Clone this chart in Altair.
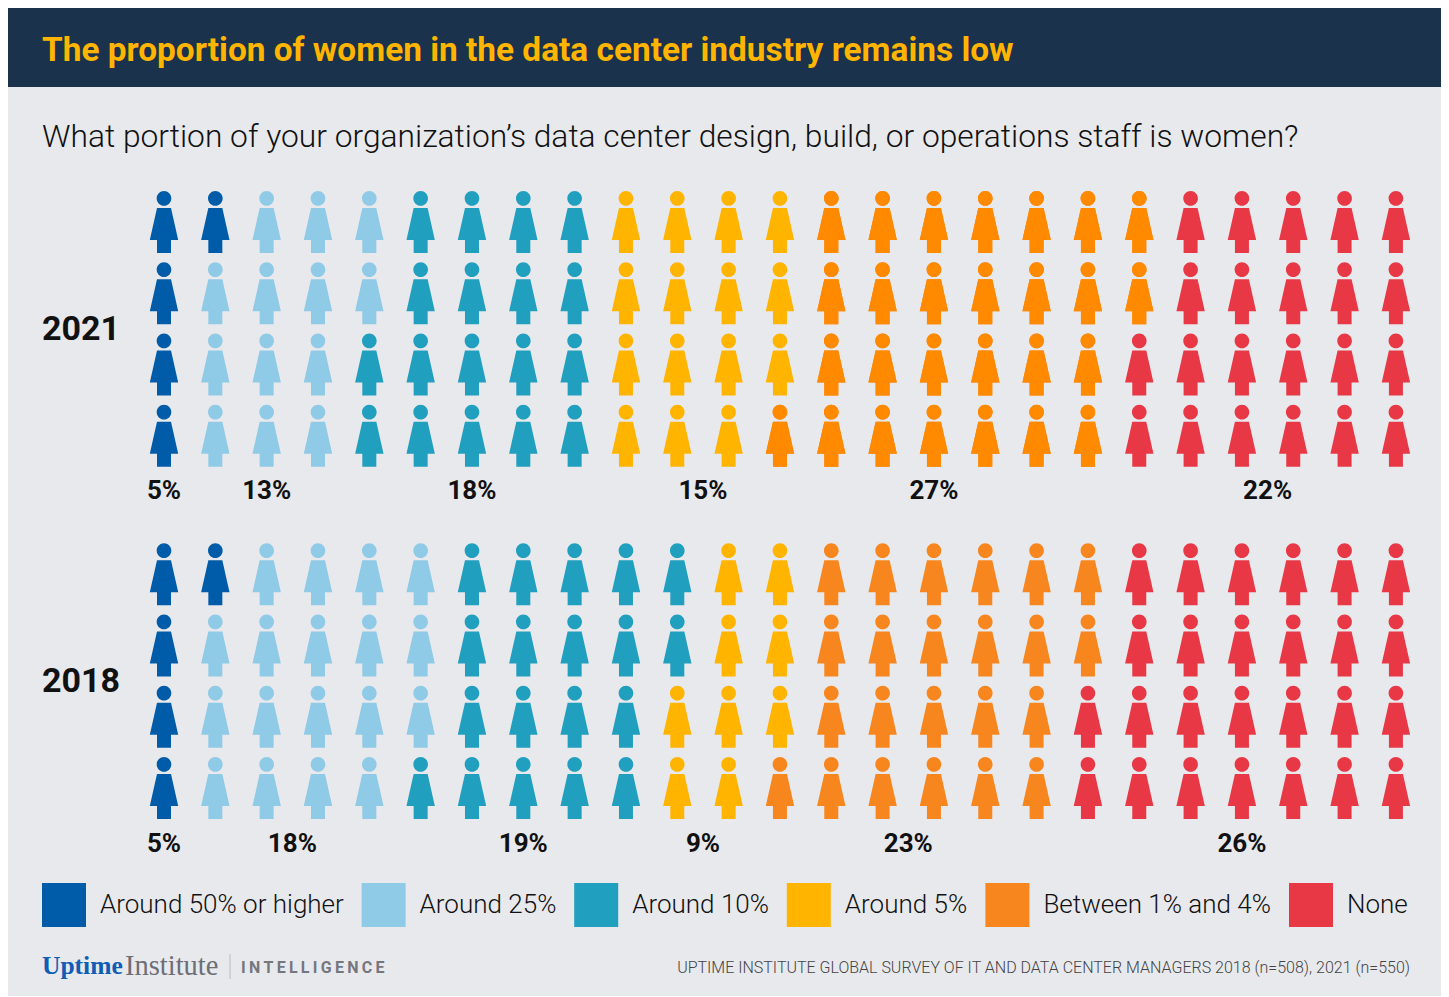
import altair as alt
import pandas as pd

categories = ["Around 50% or higher", "Around 25%", "Around 10%", "Around 5%", "Between 1% and 4%", "None"]
colors = ["#005CA9", "#8FCAE7", "#209FBE", "#FFB400", "#F7861F", "#E83845"]
orange_2021 = "#FF8A00"
years = ["2021", "2018"]
counts_2021 = [5, 13, 18, 15, 27, 22]
counts_2018 = [5, 18, 19, 9, 23, 26]
label_cols_2021 = [0, 2, 6, 10.5, 15, 21.5]
label_cols_2018 = [0, 2.5, 7, 10.5, 14.5, 21]
year_row_offset = {"2021": 0, "2018": 4.944}
ROWS = 4

W, H = 1433, 988
X0, XSTEP = 156.0, 51.33
Y0, YSTEP = 214.0, 71.25


def cells(year, counts):
    out = []
    i = 0
    for cat, n in zip(categories, counts):
        for _ in range(n):
            out.append({"year": year, "category": cat,
                        "col": i // ROWS,
                        "row": i % ROWS + year_row_offset[year]})
            i += 1
    return out


df = pd.DataFrame(cells("2021", counts_2021) + cells("2018", counts_2018))

labels_2021 = pd.DataFrame({"col": label_cols_2021, "label": [f"{n}%" for n in counts_2021]})
labels_2018 = pd.DataFrame({"col": label_cols_2018, "label": [f"{n}%" for n in counts_2018]})

x_scale = alt.Scale(domain=[-X0 / XSTEP, (W - X0) / XSTEP], range=[0, W], nice=False, zero=False)
y_scale = alt.Scale(domain=[-Y0 / YSTEP, (H - Y0) / YSTEP], range=[0, H], nice=False, zero=False)

u = 31.0


def p(a):
    return f"{a / u:.4f}"


ICON = (
    f"M{p(-7)},{p(-14)} L{p(7)},{p(-14)} L{p(14.2)},{p(18)} L{p(7)},{p(18)} L{p(7)},1 "
    f"L{p(-7)},1 L{p(-7)},{p(18)} L{p(-14.2)},{p(18)} Z "
    f"M{p(-7.3)},{p(-23.6)} A{p(7.3)},{p(7.3)} 0 1 1 {p(7.3)},{p(-23.6)} "
    f"A{p(7.3)},{p(7.3)} 0 1 1 {p(-7.3)},{p(-23.6)} Z"
)

one = alt.Data(values=[{"a": 1}])


def rect(x, x2, y, y2, fill):
    return alt.Chart(one).mark_rect(fill=fill, stroke=None).encode(
        x=alt.value(x), x2=alt.value(x2), y=alt.value(y), y2=alt.value(y2))


def text(s, x, y, size, color="#111111", weight=400, align="left", font="Roboto"):
    return alt.Chart(one).mark_text(
        text=s, align=align, baseline="middle", fontSize=size, color=color,
        fontWeight=weight, font=font,
    ).encode(x=alt.value(x), y=alt.value(y))


def pct(frame, y):
    return alt.Chart(frame).mark_text(
        font="Roboto", fontSize=26, fontWeight=700, color="#111111", baseline="middle", align="center"
    ).encode(x=alt.X("col:Q", scale=x_scale, axis=None), y=alt.value(y), text="label:N")


panel = rect(0, W, 79, H, "#E8E9ED")
header = rect(0, W, 0, 79, "#1A324C")

icons = alt.Chart(df).mark_point(
    shape=ICON, filled=True, size=3844, opacity=1, strokeWidth=0
).encode(
    x=alt.X("col:Q", scale=x_scale, axis=None),
    y=alt.Y("row:Q", scale=y_scale, axis=None),
    fill=alt.Fill(
        "category:N",
        sort=categories,
        scale=alt.Scale(domain=categories, range=colors),
        legend=alt.Legend(
            title=None, orient="none", legendX=34, legendY=875,
            direction="horizontal", columns=6, symbolType="square", symbolSize=1936,
            symbolStrokeWidth=0, symbolOpacity=1, labelOffset=14, columnPadding=17.6,
            labelFont="Roboto", labelFontSize=26, labelFontWeight=300, labelColor="#111111",
            labelLimit=400, padding=0,
        ),
    ),
)

icons_2021_orange = alt.Chart(df[(df.year == "2021") & (df.category == categories[4])]).mark_point(
    shape=ICON, filled=True, size=3844, opacity=1, strokeWidth=0, fill=orange_2021
).encode(
    x=alt.X("col:Q", scale=x_scale, axis=None),
    y=alt.Y("row:Q", scale=y_scale, axis=None),
)

chart = alt.layer(
    panel,
    header,
    text("The proportion of women in the data center industry remains low", 34, 43, 33.4,
         color="#FFB400", weight=700),
    text("What portion of your organization\u2019s data center design, build, or operations staff is women?",
         34, 129, 31.75, weight=300),
    text(years[0], 34, 322, 34, weight=700),
    text(years[1], 34, 674, 34, weight=700),
    icons,
    icons_2021_orange,
    pct(labels_2021, 483),
    pct(labels_2018, 836),
    text("Uptime", 34, 958, 25.5, color="#0F5DB5", font="Liberation Serif", weight=700),
    text("Institute", 117, 958, 28.5, color="#6D6F76", font="Liberation Serif", weight=400),
    rect(221.5, 222.5, 946, 971, "#B9BBC0"),
    text("I\u2009N\u2009T\u2009E\u2009L\u2009L\u2009I\u2009G\u2009E\u2009N\u2009C\u2009E",
         233, 960, 16, color="#75777D", weight=700),
    text("UPTIME INSTITUTE GLOBAL SURVEY OF IT AND DATA CENTER MANAGERS 2018 (n=508), 2021 (n=550)",
         1402, 960, 16, color="#444444", align="right", weight=300),
).properties(
    width=W, height=H, padding=0, background="white",
    autosize=alt.AutoSizeParams(type="none"),
).configure_view(stroke=None)

chart.save("out.html", embed_options={"renderer": "svg", "actions": False})
